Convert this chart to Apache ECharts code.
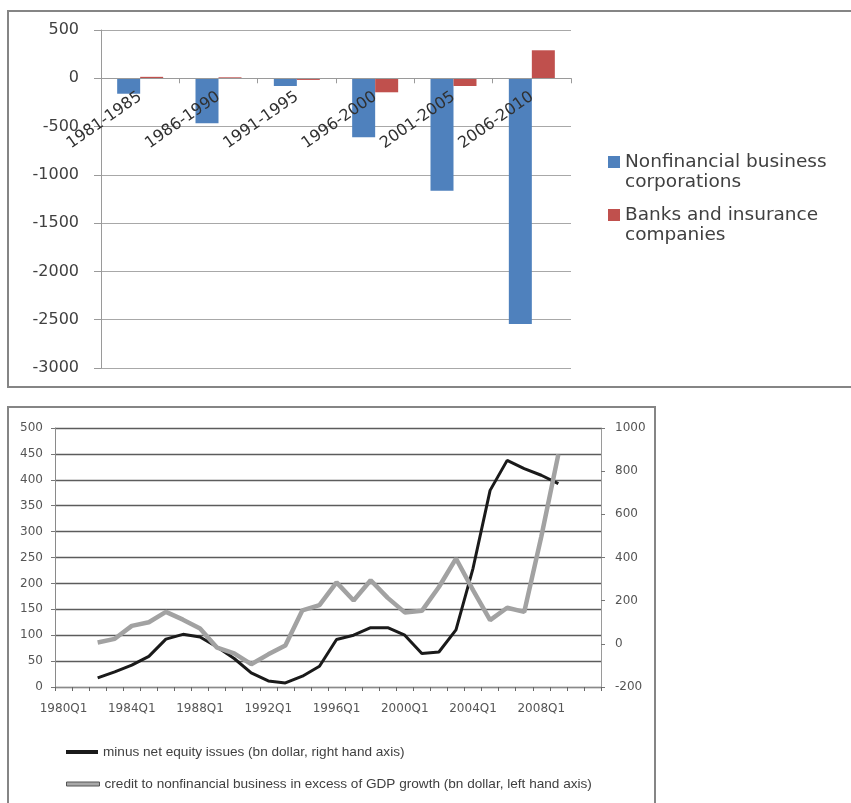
<!DOCTYPE html>
<html>
<head>
<meta charset="utf-8">
<script src="https://cdn.jsdelivr.net/npm/echarts@6/dist/echarts.min.js"></script>
<style>
  html, body { margin: 0; padding: 0; background: #fff; }
  #chart { width: 851px; height: 803px; }
</style>
</head>
<body>
<div id="chart"></div>
<script>
// Top panel: net equity issues by sector, five-year periods (bn dollar)
const periods = ['1981-1985', '1986-1990', '1991-1995', '1996-2000', '2001-2005', '2006-2010'];
const nonfinancial = [-160, -465, -80, -610, -1165, -2545];
const banksInsurance = [15, 10, -17, -145, -80, 290];
const barTicks = { min: -3000, max: 500, step: 500 };

// Bottom panel: yearly series, 1980Q1 .. 2011Q1
const quarters = ['1980Q1', '1981Q1', '1982Q1', '1983Q1', '1984Q1', '1985Q1', '1986Q1', '1987Q1',
  '1988Q1', '1989Q1', '1990Q1', '1991Q1', '1992Q1', '1993Q1', '1994Q1', '1995Q1',
  '1996Q1', '1997Q1', '1998Q1', '1999Q1', '2000Q1', '2001Q1', '2002Q1', '2003Q1',
  '2004Q1', '2005Q1', '2006Q1', '2007Q1', '2008Q1', '2009Q1', '2010Q1', '2011Q1'];
const minusNetEquity = [null, null, -158, -130, -99, -58, 22, 44, 32, -15, -68, -135, -172, -181, -150, -104,
  20, 40, 75, 75, 40, -45, -38, 65, 350, 711, 850, 812, 781, 742, null, null];
const excessCredit = [null, null, 86, 93, 118, 125, 145, 130, 113, 76, 65, 44, 63, 80, 148, 158,
  202, 167, 206, 172, 144, 147, 193, 248, 187, 129, 153, 145, 290, 449, null, null];
const leftTicks = { min: 0, max: 500, step: 50 };
const rightTicks = { min: -200, max: 1000, step: 200 };

const NAME_NF = 'Nonfinancial business\ncorporations';
const NAME_BK = 'Banks and insurance\ncompanies';
const NAME_EQ = 'minus net equity issues (bn dollar, right hand axis)';
const NAME_CR = 'credit to nonfinancial business in excess of GDP growth (bn dollar, left hand axis)';

const chart = echarts.init(document.getElementById('chart'), null, { renderer: 'canvas' });

const topFont = 'DejaVu Sans';
const botFont = 'DejaVu Sans';

// top plot box (px)
const topGrid = { left: 101, top: 30, width: 470, height: 338 };
// the period axis sits on the zero line: lift it from the grid bottom by the span min..0
const zeroLift = topGrid.height * (0 - barTicks.min) / (barTicks.max - barTicks.min);

// square swatch sitting at the top of a taller box, so it lines up with the first text line
const topSwatch = 'path://M0,0H12V12H0Z M0,31.99H0.01V32H0Z';

const plainNumber = v => String(v);

const option = {
  backgroundColor: '#ffffff',
  animation: false,
  graphic: [
    { type: 'rect', silent: true, z: -1,
      shape: { x: 8, y: 11, width: 900, height: 376 },
      style: { fill: 'none', stroke: '#858585', lineWidth: 2 } },
    { type: 'rect', silent: true, z: -1,
      shape: { x: 8, y: 407, width: 647, height: 450 },
      style: { fill: 'none', stroke: '#858585', lineWidth: 2 } }
  ],
  grid: [
    { left: topGrid.left, top: topGrid.top, width: topGrid.width, height: topGrid.height, containLabel: false },
    { left: 55, right: 250, top: 428, bottom: 116, containLabel: false }
  ],
  legend: [
    { data: [NAME_NF], orient: 'vertical', left: 608, top: 152, padding: 0,
      icon: topSwatch, itemWidth: 12, itemHeight: 32, symbolKeepAspect: false,
      itemStyle: { color: '#4f81bd' },
      textStyle: { fontFamily: topFont, fontSize: 18.5, color: '#404040', lineHeight: 20 } },
    { data: [NAME_BK], orient: 'vertical', left: 608, top: 205, padding: 0,
      icon: topSwatch, itemWidth: 12, itemHeight: 32, symbolKeepAspect: false,
      itemStyle: { color: '#c0504d' },
      textStyle: { fontFamily: topFont, fontSize: 18.5, color: '#404040', lineHeight: 20 } },
    { data: [{ name: NAME_EQ, icon: 'rect', itemStyle: { color: '#1a1a1a' } }],
      left: 66, top: 745, padding: 0, itemWidth: 32, itemHeight: 4,
      textStyle: { fontFamily: 'Liberation Sans', fontSize: 13.6, color: '#404040' } },
    { data: [{ name: NAME_CR, icon: 'rect', itemStyle: { color: '#a8a8a8', borderColor: '#555', borderWidth: 1 } }],
      left: 66, top: 777, padding: 0, itemWidth: 33, itemHeight: 4,
      textStyle: { fontFamily: 'Liberation Sans', fontSize: 13.6, color: '#404040' } }
  ],
  xAxis: [
    { type: 'category', gridIndex: 0, data: periods, position: 'bottom', offset: -zeroLift, z: 5,
      axisLine: { onZero: false, lineStyle: { color: '#9a9a9a', width: 1 } },
      axisTick: { show: true, interval: 0, alignWithLabel: false, length: 5, lineStyle: { color: '#9a9a9a' } },
      axisLabel: { interval: 0, rotate: 35, margin: 17, fontFamily: topFont, fontSize: 16, color: '#303030' },
      splitLine: { show: false } },
    { type: 'category', gridIndex: 1, data: quarters, boundaryGap: true,
      axisLine: { lineStyle: { color: '#8a8a8a', width: 1 } },
      axisTick: { show: true, interval: 0, alignWithLabel: false, length: 4, lineStyle: { color: '#666' } },
      axisLabel: { interval: 3, margin: 16, fontFamily: botFont, fontSize: 12, color: '#555' },
      splitLine: { show: false } }
  ],
  yAxis: [
    { type: 'value', gridIndex: 0, min: barTicks.min, max: barTicks.max, interval: barTicks.step,
      axisLine: { show: true, lineStyle: { color: '#9a9a9a' } },
      axisTick: { show: true, length: 7, lineStyle: { color: '#9a9a9a' } },
      axisLabel: { margin: 22, fontFamily: topFont, fontSize: 16, color: '#404040', formatter: plainNumber },
      splitLine: { show: true, lineStyle: { color: '#a8a8a8', width: 1 } } },
    { type: 'value', gridIndex: 1, position: 'left', min: leftTicks.min, max: leftTicks.max, interval: leftTicks.step,
      axisLine: { show: true, lineStyle: { color: '#8a8a8a' } },
      axisTick: { show: true, length: 4, lineStyle: { color: '#777' } },
      axisLabel: { margin: 12, fontFamily: botFont, fontSize: 12, color: '#555', formatter: plainNumber },
      splitLine: { show: true, lineStyle: { color: '#5c5c5c', width: 1.4 } } },
    { type: 'value', gridIndex: 1, position: 'right', min: rightTicks.min, max: rightTicks.max, interval: rightTicks.step,
      axisLine: { show: true, lineStyle: { color: '#9a9a9a' } },
      axisTick: { show: true, length: 4, lineStyle: { color: '#777' } },
      axisLabel: { margin: 14, fontFamily: botFont, fontSize: 12, color: '#555', formatter: plainNumber },
      splitLine: { show: false } }
  ],
  series: [
    { name: NAME_NF, type: 'bar', xAxisIndex: 0, yAxisIndex: 0, data: nonfinancial,
      barWidth: 23, barGap: '0%', itemStyle: { color: '#4f81bd' } },
    { name: NAME_BK, type: 'bar', xAxisIndex: 0, yAxisIndex: 0, data: banksInsurance,
      barWidth: 23, barGap: '0%', itemStyle: { color: '#c0504d' } },
    { name: NAME_EQ, type: 'line', xAxisIndex: 1, yAxisIndex: 2, data: minusNetEquity,
      showSymbol: false, symbol: 'none', connectNulls: false,
      lineStyle: { color: '#1a1a1a', width: 3 }, itemStyle: { color: '#1a1a1a' } },
    { name: NAME_CR, type: 'line', xAxisIndex: 1, yAxisIndex: 1, data: excessCredit,
      showSymbol: false, symbol: 'none', connectNulls: false,
      lineStyle: { color: '#a2a2a2', width: 4.5 }, itemStyle: { color: '#a2a2a2' } }
  ]
};

chart.setOption(option);
</script>
</body>
</html>
